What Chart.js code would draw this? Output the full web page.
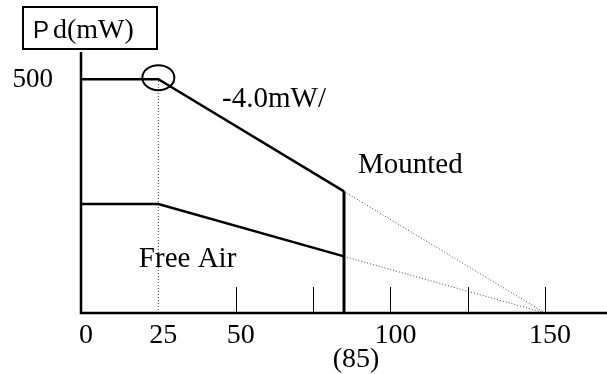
<!DOCTYPE html>
<html>
<head>
<meta charset="utf-8">
<script src="https://cdn.jsdelivr.net/npm/chart.js@4"></script>
<style>
  html, body { margin: 0; padding: 0; background: #fff; }
  #wrap { width: 607px; height: 374px; }
</style>
</head>
<body>
<div id="wrap"><canvas id="pdChart"></canvas></div>
<script>
// ==== Derating data (Ta in °C, Pd in mW) ====
const mountedTemps = [0, 25, 85];
const mountedPd = [500, 500, 260];
const freeAirTemps = [0, 25, 85];
const freeAirPd = [233, 233, 121];
const zeroTemp = 150;          // both curves reach 0 mW here
const tickTemps = [50, 75, 100, 125, 150];
const tickLabels = ['0', '25', '50', '100', '150'];
const tickLabelTemps = [0, 25, 50, 100, 150];

const SERIF = '"Liberation Serif", "Times New Roman", serif';

const xy = (xs, ys) => xs.map((x, i) => ({ x: x, y: ys[i] }));
const last = a => a[a.length - 1];

const solid = { borderColor: '#000', borderWidth: 2.5, pointRadius: 0, fill: false, tension: 0 };
const dotted = { borderColor: '#444', borderWidth: 1, borderDash: [1, 2], pointRadius: 0, fill: false, tension: 0 };

// ==== Axes, ticks, ellipse and texts ====
const decorPlugin = {
    id: 'decor',
    afterDatasetsDraw(chart) {
        const { ctx, scales: { x, y } } = chart;
        const x0 = x.getPixelForValue(0);
        const y0 = y.getPixelForValue(0);
        ctx.save();
        ctx.strokeStyle = '#000';

        // axes
        ctx.lineWidth = 2.5;
        ctx.beginPath();
        ctx.moveTo(x0, y.getPixelForValue(y.max));
        ctx.lineTo(x0, y0);
        ctx.lineTo(x.getPixelForValue(x.max), y0);
        ctx.stroke();

        // small tick marks
        ctx.lineWidth = 1;
        tickTemps.forEach(t => {
            const px = Math.round(x.getPixelForValue(t)) + 0.5;
            ctx.beginPath();
            ctx.moveTo(px, y0);
            ctx.lineTo(px, y0 - 26);
            ctx.stroke();
        });

        // ellipse around the 25°C break point
        ctx.lineWidth = 2;
        ctx.beginPath();
        ctx.ellipse(x.getPixelForValue(mountedTemps[1]), y.getPixelForValue(mountedPd[1]) - 1.5, 16, 12.5, 0, 0, Math.PI * 2);
        ctx.stroke();

        // y-axis label box
        ctx.lineWidth = 2;
        ctx.strokeRect(23, 7, 134, 42);

        ctx.fillStyle = '#000';
        ctx.textBaseline = 'alphabetic';
        ctx.textAlign = 'left';
        ctx.font = '24px "Liberation Sans", sans-serif';
        ctx.fillText('P', 33, 38);
        ctx.font = '28px ' + SERIF;
        ctx.fillText('d(mW)', 53, 38);

        // y tick label
        ctx.font = '27px ' + SERIF;
        ctx.textAlign = 'right';
        ctx.textBaseline = 'middle';
        ctx.fillText('500', x0 - 28, y.getPixelForValue(500) + 1);

        // x tick labels
        ctx.font = '28px ' + SERIF;
        ctx.textAlign = 'center';
        ctx.textBaseline = 'alphabetic';
        tickLabels.forEach((lbl, i) => {
            ctx.fillText(lbl, x.getPixelForValue(tickLabelTemps[i]) + 5, y0 + 30);
        });
        ctx.fillText('(85)', x.getPixelForValue(last(mountedTemps)) + 12, y0 + 54);

        // curve annotations
        ctx.font = '29px ' + SERIF;
        ctx.textAlign = 'left';
        ctx.fillText('-4.0mW/', x.getPixelForValue(45.6), y.getPixelForValue(440));
        ctx.fillText('Mounted', x.getPixelForValue(89.5), y.getPixelForValue(299));
        ctx.fillText('Free Air', x.getPixelForValue(18.7), y.getPixelForValue(98));
        ctx.restore();
    }
};

const ctx = document.getElementById('pdChart').getContext('2d');
new Chart(ctx, {
    type: 'line',
    data: {
        datasets: [
            { ...solid, data: xy(mountedTemps, mountedPd) },
            { ...solid, data: xy(freeAirTemps, freeAirPd) },
            // cut-off at 85°C
            { ...solid, borderWidth: 3, data: [{ x: last(mountedTemps), y: 0 }, { x: last(mountedTemps), y: last(mountedPd) }] },
            // dotted extensions down to 150°C
            { ...dotted, data: [{ x: last(mountedTemps), y: last(mountedPd) }, { x: zeroTemp, y: 0 }] },
            { ...dotted, data: [{ x: last(freeAirTemps), y: last(freeAirPd) }, { x: zeroTemp, y: 0 }] },
            // dotted guide at 25°C
            { ...dotted, data: [{ x: mountedTemps[1], y: 0 }, { x: mountedTemps[1], y: mountedPd[1] }] }
        ]
    },
    options: {
        responsive: true,
        maintainAspectRatio: false,
        animation: false,
        layout: { padding: { left: 81, top: 52, right: 0, bottom: 61 } },
        plugins: { legend: { display: false }, tooltip: { enabled: false } },
        scales: {
            x: { type: 'linear', min: 0, max: 170, display: false },
            y: { type: 'linear', min: 0, max: 558, display: false }
        }
    },
    plugins: [decorPlugin]
});
</script>
</body>
</html>
